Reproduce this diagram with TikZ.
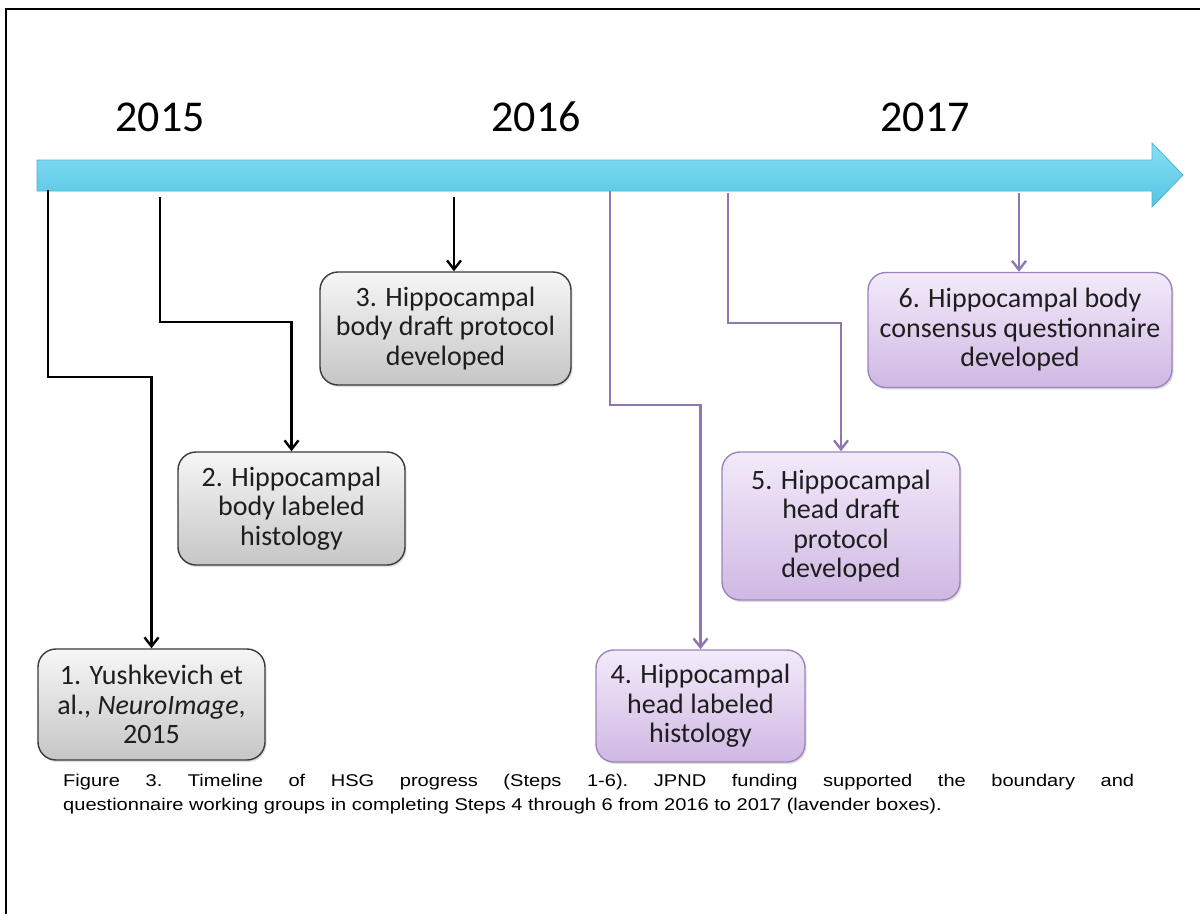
\documentclass[tikz,border=0pt]{standalone}
\usepackage{fontspec}
\setmainfont{Carlito}
\newfontfamily\capfont[FakeStretch=1.18]{Liberation Sans}
\usetikzlibrary{arrows.meta,shadows}
\definecolor{bartop}{HTML}{86DFF4}
\definecolor{barbot}{HTML}{56C4E2}
\definecolor{baredge}{HTML}{49B8D6}
\definecolor{graytop}{HTML}{F6F6F6}
\definecolor{graybot}{HTML}{C6C6C6}
\definecolor{grayedge}{HTML}{3A3A3A}
\definecolor{lavtop}{HTML}{F3EAFA}
\definecolor{lavbot}{HTML}{CFB8E3}
\definecolor{lavedge}{HTML}{9C84BC}
\definecolor{lavline}{HTML}{8E77B5}
\definecolor{boxtext}{HTML}{1E1E1E}
\tikzset{
  stepbox/.style={rounded corners=18pt, line width=1.4pt, align=center,
    font=\fontsize{28}{29.5}\selectfont, text=boxtext, inner sep=0pt,
    drop shadow={shadow xshift=1.5pt, shadow yshift=-2pt, opacity=0.25}},
  graybox/.style={stepbox, draw=grayedge, top color=graytop, bottom color=graybot},
  lavbox/.style={stepbox, draw=lavedge, top color=lavtop, bottom color=lavbot},
  conn/.style={line width=2.4pt, black, -{Straight Barb[length=9pt,width=14pt,line width=2.4pt]}},
  lconn/.style={conn, lavline},
  year/.style={font=\fontsize{44}{50}\selectfont, text=black}
}
\begin{document}
\begin{tikzpicture}[x=1pt,y=-1pt]
\useasboundingbox (0,0) rectangle (1200,914);
\fill[white] (0,0) rectangle (1200,914);
% frame
\draw[line width=2pt] (6,914) -- (6,9) -- (1200,9);
% years
\node[year] (y15) at (160,117) {2015};
\node[year] (y16) at (536,117) {2016};
\node[year] (y17) at (925,117) {2017};
% timeline bar
\shade[top color=bartop, bottom color=barbot, draw=baredge, line width=0.8pt]
  (37,160) -- (1152,160) -- (1152,143) -- (1183,175) -- (1152,207) -- (1152,191) -- (37,191) -- cycle;
% start points on the bar
\coordinate (s1) at (48,190);
\coordinate (s2) at (160,197);
\coordinate (s3) at (454,197);
\coordinate (s4) at (610,191);
\coordinate (s5) at (728,193);
\coordinate (s6) at (1019,193);
% boxes
\node[graybox, minimum width=227pt, minimum height=111pt] (b1) at (151.5,704.5)
  {1. Yushkevich et\\al., \textit{NeuroImage},\\2015};
\node[graybox, minimum width=227pt, minimum height=113pt] (b2) at (291.5,508.5)
  {2. Hippocampal\\body labeled\\histology};
\node[graybox, minimum width=251pt, minimum height=113pt] (b3) at (445.5,328.5)
  {3. Hippocampal\\body draft protocol\\developed};
\node[lavbox, minimum width=209pt, minimum height=112pt] (b4) at (700.5,706)
  {4. Hippocampal\\head labeled\\histology};
\node[lavbox, minimum width=238pt, minimum height=148pt] (b5) at (841,526)
  {5. Hippocampal\\head draft\\protocol\\developed};
\node[lavbox, minimum width=304pt, minimum height=115pt] (b6) at (1020,330)
  {6. Hippocampal body\\consensus questionnaire\\developed};
% connectors
\draw[conn] (s1) -- ++(0,187) -| (b1.north);
\draw[conn] (s2) -- ++(0,125) -| (b2.north);
\draw[conn] (s3) -- (s3 |- b3.north);
\draw[lconn] (s4) -- ++(0,214) -| (b4.north);
\draw[lconn] (s5) -- ++(0,130) -| (b5.north);
\draw[lconn] (s6) -- (s6 |- b6.north);
% caption
\node[anchor=north west, text width=1071pt, align=justify, inner sep=0pt,
  font=\capfont\fontsize{17}{24}\selectfont\frenchspacing] (cap) at (63,774)
  {Figure 3. Timeline of HSG progress (Steps 1-6). JPND funding supported the boundary and\linebreak questionnaire working groups in completing Steps 4 through 6 from 2016 to 2017 (lavender boxes).};
\end{tikzpicture}
\end{document}
